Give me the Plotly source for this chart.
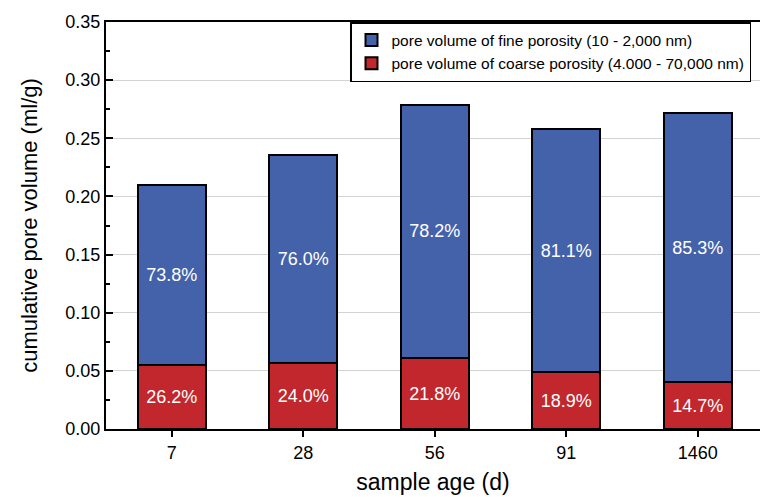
import plotly.graph_objects as go

ages = ["7", "28", "56", "91", "1460"]
coarse = [0.055, 0.057, 0.061, 0.049, 0.040]
fine = [0.155, 0.179, 0.218, 0.209, 0.232]
coarse_pct = ["26.2%", "24.0%", "21.8%", "18.9%", "14.7%"]
fine_pct = ["73.8%", "76.0%", "78.2%", "81.1%", "85.3%"]

FONT = "Liberation Sans, Arial, sans-serif"
BLUE = "#4462a9"
RED = "#c1272d"

fig = go.Figure()
fig.add_trace(go.Bar(
    x=ages, y=coarse, name="pore volume of coarse porosity (4.000 - 70,000 nm)",
    marker=dict(color=RED, line=dict(color="black", width=2)),
    text=coarse_pct, textposition="inside", insidetextanchor="middle",
    textfont=dict(color="white", size=18, family=FONT), width=0.52,
))
fig.add_trace(go.Bar(
    x=ages, y=fine, name="pore volume of fine porosity (10 - 2,000 nm)",
    marker=dict(color=BLUE, line=dict(color="black", width=2)),
    text=fine_pct, textposition="inside", insidetextanchor="middle",
    textfont=dict(color="white", size=18, family=FONT), width=0.52,
))

fig.update_layout(
    width=760, height=497,
    margin=dict(l=106, r=0, t=22, b=68),
    barmode="stack",
    plot_bgcolor="white", paper_bgcolor="white",
    font=dict(family=FONT, color="black", size=18),
    legend=dict(
        x=(350 - 106) / 654, xanchor="left", y=1, yanchor="top",
        bgcolor="white", bordercolor="black", borderwidth=1.5,
        font=dict(size=15.5, family=FONT),
        tracegroupgap=0, itemsizing="constant",
    ),
    showlegend=True,
)
fig.update_xaxes(
    type="category", range=[-0.5, 4.473],
    showline=True, linecolor="black", linewidth=2, mirror=True,
    ticks="outside", ticklen=6, tickwidth=2, tickcolor="black",
    showgrid=False,
    tickfont=dict(size=18),
    title=dict(text="sample age (d)", font=dict(size=23), standoff=12),
)
fig.update_yaxes(
    range=[0, 0.35], dtick=0.05, tickformat=".2f",
    showline=True, linecolor="black", linewidth=2, mirror=False,
    ticks="inside", ticklen=7, tickwidth=2, tickcolor="black",
    minor=dict(ticks="inside", ticklen=4, tickwidth=2, dtick=0.025, tickcolor="black", showgrid=False),
    showgrid=True, gridcolor="#d3d3d3", gridwidth=1,
    zeroline=False,
    tickfont=dict(size=18),
    title=dict(text="cumulative pore volume (ml/g)", font=dict(size=22), standoff=22),
)

fig.write_html("out.html")
